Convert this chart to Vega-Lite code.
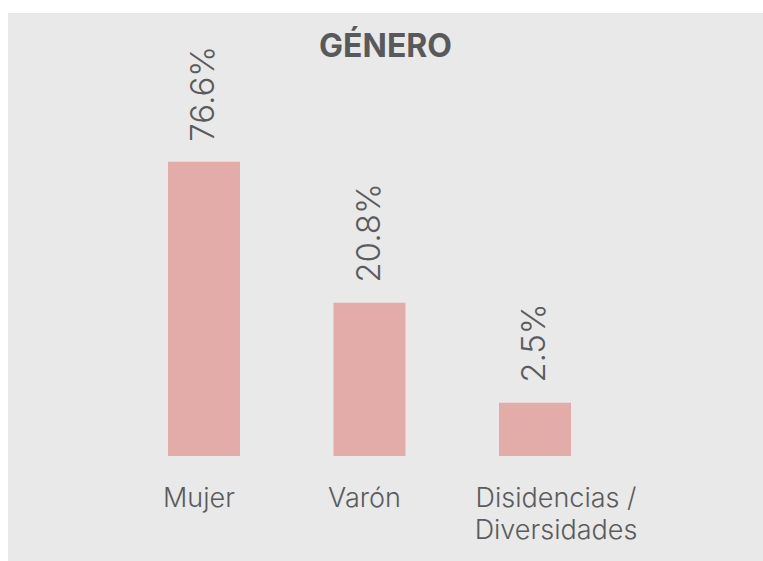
{
  "$schema": "https://vega.github.io/schema/vega-lite/v6.json",
  "autosize": "none",
  "padding": {"left": 8, "top": 13, "right": 0, "bottom": 0},
  "width": 755,
  "height": 548,
  "background": "#ffffff",
  "config": {
    "view": {"fill": "#e8e9e8", "stroke": null},
    "font": "Inter"
  },
  "title": {
    "text": "GÉNERO",
    "anchor": "middle",
    "font": "Inter",
    "fontSize": 32,
    "fontWeight": 700,
    "color": "#58595b",
    "baseline": "alphabetic",
    "offset": -76
  },
  "data": {
    "values": [
      {"genero": "Mujer", "pct": 76.6, "etiqueta": "76.6%"},
      {"genero": "Varón", "pct": 20.8, "etiqueta": "20.8%"},
      {"genero": "Disidencias / Diversidades", "pct": 2.5, "etiqueta": "2.5%"}
    ]
  },
  "encoding": {
    "x": {
      "field": "genero",
      "type": "nominal",
      "sort": null,
      "scale": {"paddingInner": 0.565, "paddingOuter": 0, "range": [160, 563]},
      "axis": {
        "title": null,
        "orient": "bottom",
        "offset": -105,
        "domain": false,
        "ticks": false,
        "labelAngle": 0,
        "labelFont": "Inter",
        "labelFontSize": 27,
        "labelFontWeight": 300,
        "labelColor": "#5a5b5d",
        "labelPadding": 29,
        "labelLineHeight": 32,
        "labelAlign": "center",
        "labelBaseline": "top",
        "labelOffset": {"condition": {"test": "datum.value === 'Disidencias / Diversidades'", "value": 21}, "value": -5},
        "labelExpr": "datum.value === 'Disidencias / Diversidades' ? ['Disidencias /', 'Diversidades'] : datum.value"
      }
    },
    "y": {
      "field": "pct",
      "type": "quantitative",
      "scale": {"type": "sqrt", "domain": [0, 173.6], "range": [443, 0], "nice": false},
      "axis": null
    }
  },
  "layer": [
    {"mark": {"type": "bar", "color": "#e4aca8"}},
    {
      "mark": {
        "type": "text",
        "angle": 270,
        "align": "left",
        "baseline": "middle",
        "dx": 20,
        "font": "Inter",
        "fontSize": 33,
        "fontWeight": 300,
        "color": "#5a5b5d"
      },
      "encoding": {"text": {"field": "etiqueta", "type": "nominal"}}
    }
  ]
}
